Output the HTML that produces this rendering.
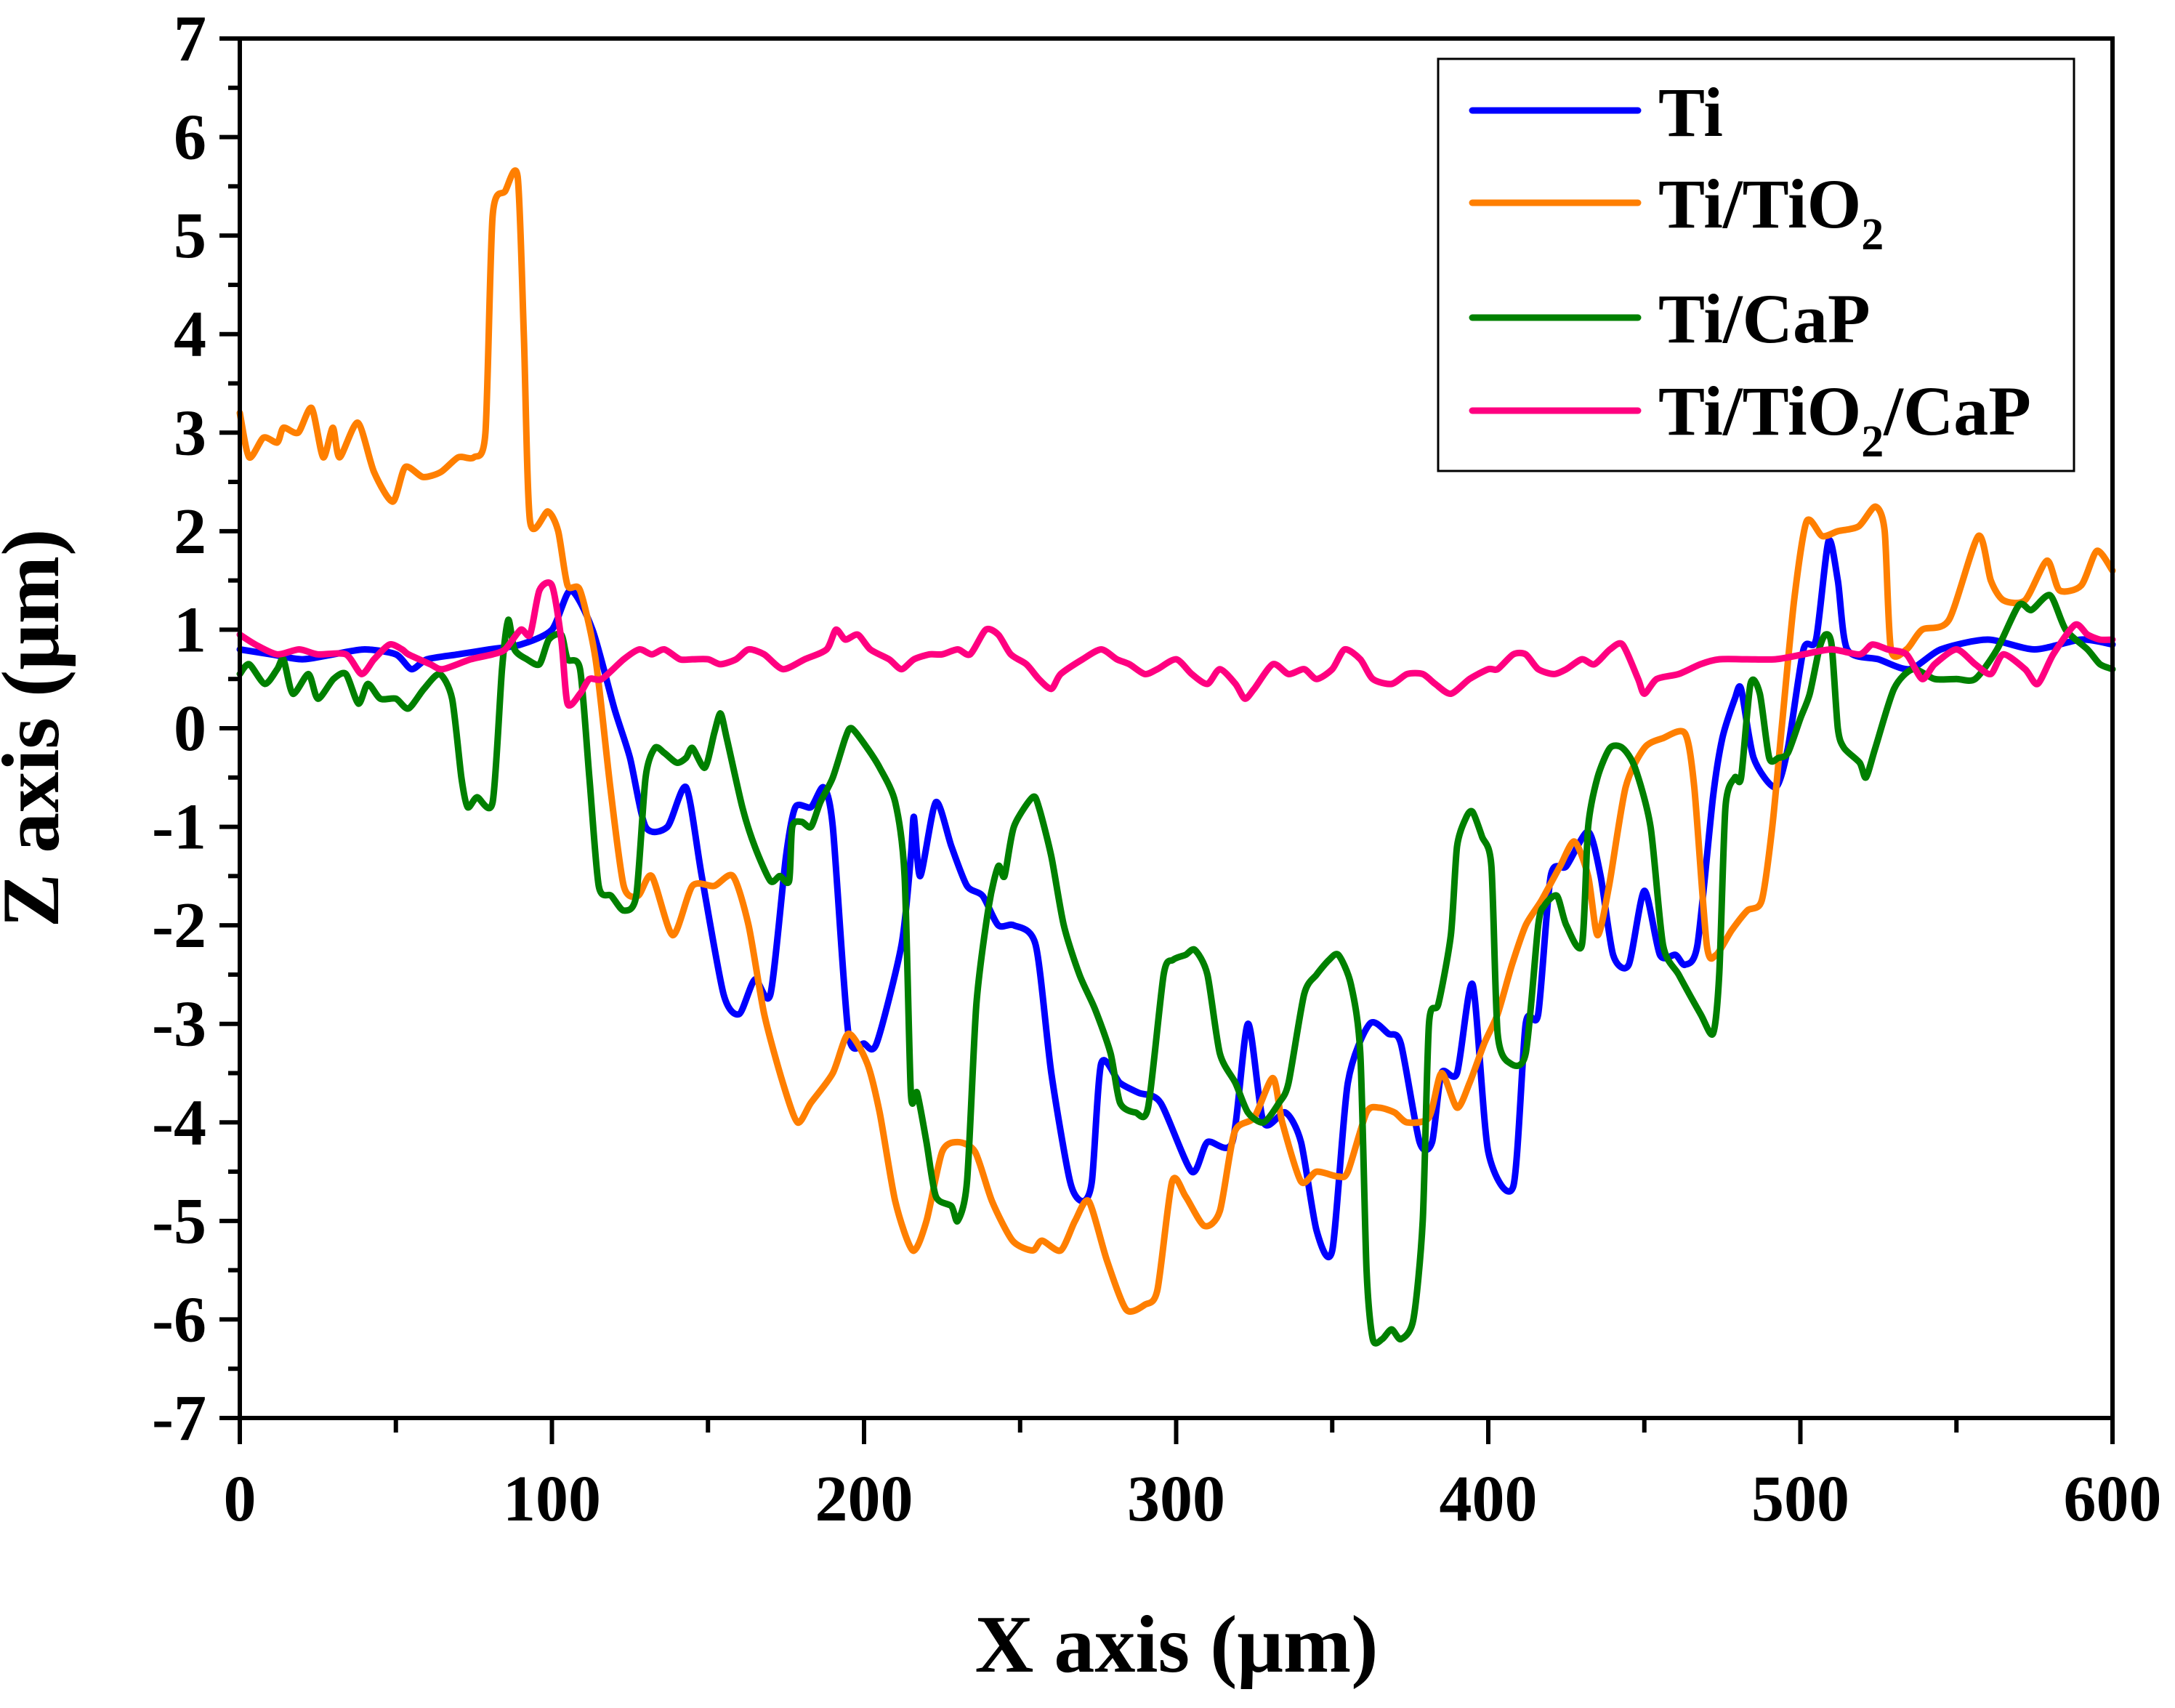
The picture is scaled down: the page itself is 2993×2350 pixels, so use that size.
<!DOCTYPE html>
<html><head><meta charset="utf-8"><style>
html,body{margin:0;padding:0;background:#fff;}
svg{display:block;}
text{font-family:"Liberation Serif",serif;font-weight:bold;fill:#000;}
</style></head><body>
<svg id="chart" width="2993" height="2350" viewBox="0 0 2993 2350" xmlns="http://www.w3.org/2000/svg">
<rect x="0" y="0" width="2993" height="2350" fill="#fff"/>
<g id="series"></g>
<g id="axes"></g>
<g id="legend"></g>
<text x="1619" y="2300" font-size="112" text-anchor="middle">X axis (μm)</text>
<text transform="translate(80,1002) rotate(-90)" font-size="112" text-anchor="middle">Z axis (μm)</text>
</svg>
<script>
const xTicks = [0,100,200,300,400,500,600];
const yTicks = [7,6,5,4,3,2,1,0,-1,-2,-3,-4,-5,-6,-7];
const seriesNames = ["Ti","Ti/TiO2","Ti/CaP","Ti/TiO2/CaP"];

const tiX = [0,10,20,30,40,50,55,60,70,80,90,100,106,113,120,125,130,137,143,148,155,160,165,170,175,178,183,187,190,195,200,204,212,215,216,218,223,228,233,238,243,248,255,260,266,270,273,276,282,288,295,305,310,318,323,328,335,340,345,350,355,362,368,372,378,382,385,390,395,400,408,412,416,420,425,432,436,440,445,450,455,460,463,467,472,475,479,481,485,492,496,501,505,509,512,515,525,535,545,560,575,590,600];
const tiY = [0.8,0.75,0.7,0.75,0.8,0.75,0.6,0.7,0.75,0.8,0.85,1.0,1.4,1.0,0.2,-0.3,-1.0,-1.0,-0.6,-1.5,-2.7,-2.9,-2.55,-2.7,-1.3,-0.8,-0.8,-0.6,-1.0,-3.1,-3.2,-3.2,-2.2,-1.3,-0.9,-1.5,-0.75,-1.2,-1.6,-1.7,-2.0,-2.0,-2.2,-3.5,-4.6,-4.8,-4.6,-3.4,-3.6,-3.7,-3.8,-4.5,-4.2,-4.2,-3.0,-4.0,-3.9,-4.2,-5.1,-5.3,-3.6,-3.0,-3.1,-3.2,-4.2,-4.2,-3.5,-3.5,-2.6,-4.3,-4.65,-3.0,-2.9,-1.5,-1.4,-1.05,-1.5,-2.3,-2.4,-1.65,-2.3,-2.3,-2.4,-2.2,-0.7,-0.1,0.3,0.4,-0.3,-0.6,-0.2,0.8,0.9,1.9,1.5,0.8,0.7,0.6,0.8,0.9,0.8,0.9,0.85];

const tio2X = [0,3,7.6,12,14,18.7,23,26.7,29.8,32,37.8,43,49,53,58.7,64.4,70,75,78.7,81,85,89,91,93,98.7,102,105,109,114,118.7,123,127.6,132,138.7,145,152,158,163,168,174,178.7,183,190,195,201,205,210,215.6,220,225,230,235.6,241,247.6,254,257,263,267.6,272,277.8,284,290,294,298.7,303,309,314,318.7,325,331,334,340,345,352,355,361,365,370,374,381,385,390,394,398.7,403,407.6,412,417,423,427.6,432,435,438.7,444,450,456,463,466,470,473,478,483,487.6,491,494,498,502,507,512,518.7,524,527,529,534,539,547.6,557,561,565,572,579,583,590,595,600];
const tio2Y = [3.2,2.75,2.95,2.9,3.05,3.0,3.25,2.75,3.05,2.75,3.1,2.6,2.3,2.65,2.55,2.6,2.75,2.75,3.0,5.2,5.45,5.6,4.0,2.1,2.2,2.0,1.45,1.4,0.7,-0.6,-1.6,-1.7,-1.5,-2.1,-1.6,-1.6,-1.5,-2.0,-2.9,-3.6,-4.0,-3.8,-3.5,-3.1,-3.4,-3.9,-4.8,-5.3,-5.0,-4.3,-4.2,-4.3,-4.8,-5.2,-5.3,-5.2,-5.3,-5.0,-4.8,-5.4,-5.9,-5.85,-5.7,-4.6,-4.75,-5.05,-4.9,-4.1,-3.95,-3.55,-4.0,-4.6,-4.5,-4.55,-4.5,-3.9,-3.85,-3.9,-4.0,-3.95,-3.5,-3.85,-3.6,-3.2,-2.9,-2.4,-2.0,-1.75,-1.4,-1.15,-1.5,-2.1,-1.6,-0.6,-0.2,-0.1,-0.05,-0.6,-2.2,-2.3,-2.05,-1.85,-1.75,-1.0,0.0,1.3,2.1,1.95,2.0,2.05,2.25,2.0,0.8,0.8,1.0,1.1,1.95,1.5,1.3,1.3,1.7,1.4,1.45,1.8,1.6];

const capX = [0,3,8,12,14,17,22,25,30,34,38,41,45,50,54,59,64,68,71,73,76,81,84,86,88,92,96,99,103,105,109,112,115,119,123,127,130,133,136,140,143,145,149,152,154,156,161,165,170,173,176,177,180,183,186,190,194,196,201,205,210,213,215,217,220,223,228,230,233,236,240,243,245,248,254,256,260,264,269,274,279,282,287,291,296,299,303,306,310,314,319,323,328,333,336,341,345,349,352,356,359,361,363,366,369,372,376,379,381,384,388,390,393,395,398,401,403,407,412,416,418,422,425,430,432,435,439,443,447,452,456,461,468,472,474,476,479,481,484,487,490,493,496,500,503,506,508,510,512,514,519,521,524,530,536,543,550,556,563,570,574,580,585,592,596,600];
const capY = [0.55,0.65,0.45,0.6,0.7,0.35,0.55,0.3,0.5,0.55,0.25,0.45,0.3,0.3,0.2,0.4,0.55,0.3,-0.5,-0.8,-0.7,-0.75,0.6,1.1,0.8,0.7,0.65,0.9,0.95,0.7,0.6,-0.5,-1.6,-1.7,-1.85,-1.7,-0.5,-0.2,-0.25,-0.35,-0.3,-0.2,-0.4,-0.05,0.15,-0.1,-0.8,-1.2,-1.55,-1.5,-1.55,-1.0,-0.95,-1.0,-0.75,-0.5,-0.1,0.0,-0.2,-0.4,-0.75,-1.5,-3.7,-3.7,-4.2,-4.75,-4.85,-5.0,-4.6,-2.8,-1.8,-1.4,-1.5,-1.0,-0.7,-0.8,-1.3,-2.0,-2.5,-2.85,-3.3,-3.8,-3.9,-3.85,-2.5,-2.35,-2.3,-2.25,-2.5,-3.3,-3.6,-3.9,-4.0,-3.8,-3.6,-2.7,-2.5,-2.35,-2.3,-2.6,-3.3,-5.5,-6.2,-6.2,-6.1,-6.2,-6.0,-5.0,-3.0,-2.8,-2.1,-1.2,-0.9,-0.85,-1.1,-1.4,-3.1,-3.4,-3.3,-2.0,-1.8,-1.7,-2.0,-2.2,-1.0,-0.5,-0.2,-0.2,-0.4,-1.0,-2.2,-2.5,-2.9,-3.1,-2.5,-0.8,-0.5,-0.5,0.45,0.35,-0.3,-0.3,-0.25,0.1,0.35,0.8,0.95,0.85,0.0,-0.2,-0.35,-0.5,-0.2,0.4,0.6,0.5,0.5,0.5,0.8,1.25,1.2,1.35,1.0,0.8,0.65,0.6];

const tcX = [0,5,12,19,25,34,39,43,48,52,54,61,65,74,81,85,90,93,96,100,103,105,109,112,116,123,128,132,136,141,145,150,154,159,163,168,174,181,188,191,194,198,202,208,212,216,221,225,230,234,239,243,247,252,256,260,263,270,276,281,285,290,294,300,305,310,314,319,322,325,331,336,341,345,350,354,359,363,369,374,379,383,388,394,400,403,408,412,416,421,425,430,434,439,443,448,450,454,461,468,474,483,492,501,510,519,523,528,534,539,543,550,556,561,565,572,576,581,588,592,596,600];
const tcY = [0.95,0.85,0.75,0.8,0.75,0.75,0.55,0.7,0.85,0.8,0.75,0.65,0.6,0.7,0.75,0.8,1.0,0.95,1.4,1.45,0.9,0.25,0.35,0.5,0.5,0.7,0.8,0.75,0.8,0.7,0.7,0.7,0.65,0.7,0.8,0.75,0.6,0.7,0.8,1.0,0.9,0.95,0.8,0.7,0.6,0.7,0.75,0.75,0.8,0.75,1.0,0.95,0.75,0.65,0.5,0.4,0.55,0.7,0.8,0.7,0.65,0.55,0.6,0.7,0.55,0.45,0.6,0.45,0.3,0.4,0.65,0.55,0.6,0.5,0.6,0.8,0.7,0.5,0.45,0.55,0.55,0.45,0.35,0.5,0.6,0.6,0.75,0.75,0.6,0.55,0.6,0.7,0.65,0.8,0.85,0.5,0.35,0.5,0.55,0.65,0.7,0.7,0.7,0.75,0.8,0.75,0.85,0.8,0.75,0.5,0.65,0.8,0.65,0.55,0.75,0.6,0.45,0.75,1.05,0.95,0.9,0.9];

const L = 330, R = 2907, T = 53, B = 1951;
const xMin = 0, xMax = 600, yMin = -7, yMax = 7;
function sx(v){ return L + (v - xMin) / (xMax - xMin) * (R - L); }
function sy(v){ return B - (v - yMin) / (yMax - yMin) * (B - T); }
const NS = "http://www.w3.org/2000/svg";
function mk(tag, attrs, parent){
  const e = document.createElementNS(NS, tag);
  for (const k in attrs) e.setAttribute(k, attrs[k]);
  parent.appendChild(e);
  return e;
}
const gS = document.getElementById('series');
const gA = document.getElementById('axes');
const gL = document.getElementById('legend');

function smoothPath(xs, ys){
  const P = xs.map((x, i) => [sx(x), sy(ys[i])]);
  const k = 1 / 8;
  let d = 'M' + P[0][0].toFixed(1) + ',' + P[0][1].toFixed(1);
  for (let i = 0; i < P.length - 1; i++) {
    const p0 = P[Math.max(0, i - 1)], p1 = P[i], p2 = P[i + 1], p3 = P[Math.min(P.length - 1, i + 2)];
    const c1x = p1[0] + (p2[0] - p0[0]) * k, c1y = p1[1] + (p2[1] - p0[1]) * k;
    const c2x = p2[0] - (p3[0] - p1[0]) * k, c2y = p2[1] - (p3[1] - p1[1]) * k;
    d += 'C' + c1x.toFixed(1) + ',' + c1y.toFixed(1) + ' ' + c2x.toFixed(1) + ',' + c2y.toFixed(1) + ' ' + p2[0].toFixed(1) + ',' + p2[1].toFixed(1);
  }
  return d;
}

const seriesList = [
  {xs: tiX, ys: tiY, color: '#0000ff', name: 'ti-line'},
  {xs: tio2X, ys: tio2Y, color: '#ff7f00', name: 'ti-tio2-line'},
  {xs: capX, ys: capY, color: '#008000', name: 'ti-cap-line'},
  {xs: tcX, ys: tcY, color: '#ff0080', name: 'ti-tio2-cap-line'}
];
seriesList.forEach(s => {
  const p = mk('path', {d: smoothPath(s.xs, s.ys), fill: 'none', stroke: s.color, 'stroke-width': 9, 'stroke-linejoin': 'round', 'stroke-linecap': 'round'}, gS);
  
  
});

const frame = mk('rect', {x: L, y: T, width: R - L, height: B - T, fill: 'none', stroke: '#000', 'stroke-width': 6}, gA);



for (let v = yMin; v <= yMax; v += 0.5) {
  const major = Number.isInteger(v);
  const t = mk('line', {x1: L - (major ? 28 : 16), x2: L, y1: sy(v), y2: sy(v), stroke: '#000', 'stroke-width': 6}, gA);
  
  
}
yTicks.forEach(v => {
  const t = mk('text', {x: 284, y: sy(v) + 30, 'font-size': 90, 'text-anchor': 'end'}, gA);
  t.textContent = v < 0 ? '-' + Math.abs(v) : String(v);
  
  
});
for (let v = xMin; v <= xMax; v += 50) {
  const major = v % 100 === 0;
  const t = mk('line', {x1: sx(v), x2: sx(v), y1: B, y2: B + (major ? 36 : 20), stroke: '#000', 'stroke-width': 6}, gA);
  
  
}
xTicks.forEach(v => {
  const t = mk('text', {x: sx(v), y: 2092, 'font-size': 90, 'text-anchor': 'middle'}, gA);
  t.textContent = String(v);
  
  
});

const box = mk('rect', {x: 1979, y: 81, width: 875, height: 567, fill: '#fff', stroke: '#000', 'stroke-width': 3}, gL);


const legY = [152, 279, 437, 565];
const legBase = [187, 313, 471, 598];
const legColors = ['#0000ff', '#ff7f00', '#008000', '#ff0080'];
const legLabels = [
  [['Ti', 0]],
  [['Ti/TiO', 0], ['2', 1]],
  [['Ti/CaP', 0]],
  [['Ti/TiO', 0], ['2', 1], ['/CaP', 0]]
];
for (let i = 0; i < 4; i++) {
  const ln = mk('line', {x1: 2026, x2: 2254, y1: legY[i], y2: legY[i], stroke: legColors[i], 'stroke-width': 9, 'stroke-linecap': 'round'}, gL);
  
  
  const tx = mk('text', {x: 2282, y: legBase[i], 'font-size': 96}, gL);
  
  
  legLabels[i].forEach(part => {
    const ts = mk('tspan', part[1] ? {'font-size': 62, dy: 30} : {'font-size': 96, dy: tx.childNodes.length ? -30 : 0}, tx);
    ts.textContent = part[0];
  });
}
</script>
</body></html>
